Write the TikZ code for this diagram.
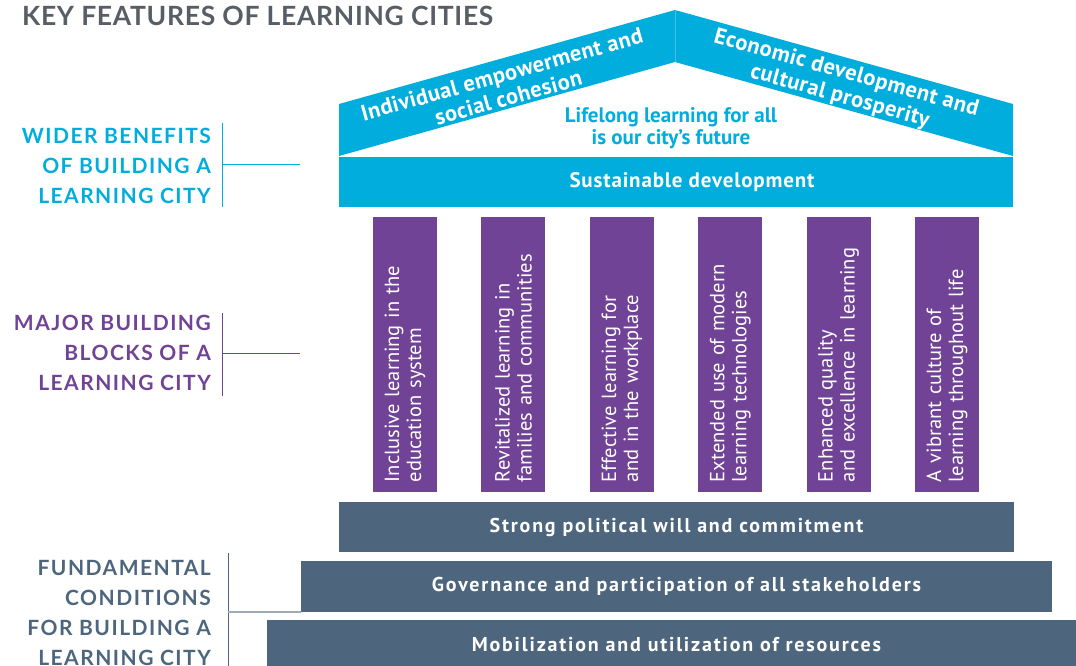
\documentclass[tikz,border=0pt]{standalone}
\usepackage{fontspec}
\setmainfont{PT Sans}
\newfontfamily\latofont{Lato}
\newfontfamily\latowide[LetterSpace=7]{Lato}
\newfontfamily\barfont[LetterSpace=9]{PT Sans}
\newfontfamily\wallfont[LetterSpace=4]{PT Sans}
\newfontfamily\rooffont[LetterSpace=2]{PT Sans}
\usetikzlibrary{positioning}

\definecolor{citycyan}{RGB}{0,173,220}
\definecolor{citypurple}{RGB}{112,67,150}
\definecolor{cityslate}{RGB}{77,102,125}
\definecolor{titlegray}{RGB}{88,94,101}

\tikzset{
	sidetext/.style={align=right, font=\latowide\bfseries\fontsize{21}{30}\selectfont},
	bracket/.style={line width=1pt},
	rooftext/.style={align=center, text=white, font=\rooffont\bfseries\fontsize{22.5}{24}\selectfont},
	pillar/.style={fill=citypurple, text=white, rotate=90, minimum width=275, minimum height=64,
		text width=255, inner xsep=10, align=left, font=\fontsize{20.5}{22}\selectfont},
	basebar/.style={fill=cityslate, text=white, minimum height=50, font=\barfont\bfseries\fontsize{20}{22}\selectfont},
}

\begin{document}
\begin{tikzpicture}[x=1pt, y=-1pt, every node/.style={inner sep=0pt}]
	\clip (0,0) rectangle (1076,666);
	\node[anchor=base west, text=titlegray, font=\latofont\addfontfeature{LetterSpace=2.6}\bfseries\fontsize{26.5}{30}\selectfont] (title) at (22,26) {KEY FEATURES OF LEARNING CITIES};

	% roof
	\coordinate (peak) at (675,10);
	\coordinate (ridge) at (675,62);
	\fill[citycyan] (339,104) -- (peak) -- (ridge) -- (339,156) -- cycle;
	\fill[citycyan] (peak) -- (1013,104) -- (1013,156) -- (ridge) -- cycle;
	\draw[citycyan!75!white, line width=0.6pt] (peak) -- (ridge);
	\node[rooftext, rotate=15.63] (social) at (505,86) {Individual empowerment and\\social cohesion};
	\node[rooftext, rotate=-15.63] (economic) at (843,85) {Economic development and\\cultural prosperity};
	\node[align=center, text=citycyan, font=\bfseries\fontsize{21}{22}\selectfont] (motto) at (671,128) {Lifelong learning for all\\is our city’s future};
	\node[fill=citycyan, minimum width=674, minimum height=50] (wall) at (676,182) {};
	\node[text=white, font=\wallfont\bfseries\fontsize{21}{22}\selectfont] (sustain) at ([xshift=16]wall.center) {Sustainable development};

	% pillars
	\foreach \n/\px/\txt in {1/405/{Inclusive learning in the\\education system},
		2/513.4/{Revitalized learning in\\families and communities},
		3/621.8/{Effective learning for\\and in the workplace},
		4/730.2/{Extended use of modern\\learning technologies},
		5/838.6/{Enhanced quality\\and excellence in learning},
		6/947/{A vibrant culture of\\learning throughout life}}
		\node[pillar] (p\n) at (\px,354.5) {\txt};

	% foundation
	\node[basebar, minimum width=675] (will) at (676.5,527) {Strong political will and commitment};
	\node[basebar, minimum width=751, minimum height=51] (gov) at (676.5,586.5) {Governance and participation of all stakeholders};
	\node[basebar, minimum width=819] (res) at (676.5,645) {Mobilization and utilization of resources};

	% side labels
	\node[sidetext, text=citycyan, anchor=north east] (wider) at (211,128) {WIDER BENEFITS\\OF BUILDING A\\LEARNING CITY};
	\node[sidetext, text=citypurple, anchor=north east] (major) at (211,315) {MAJOR BUILDING\\BLOCKS OF A\\LEARNING CITY};
	\node[sidetext, text=cityslate, anchor=north east] (fund) at (211,560) {FUNDAMENTAL\\CONDITIONS\\FOR BUILDING A\\LEARNING CITY};

	\coordinate (wtop) at (222,123);
	\coordinate (wbot) at (222,207);
	\coordinate (wend) at (300,164);
	\draw[bracket, citycyan] (wtop) -- (wbot) (wtop |- wend) -- (wend);
	\coordinate (mtop) at (222,313);
	\coordinate (mbot) at (222,396);
	\coordinate (mend) at (300,353);
	\draw[bracket, citypurple] (mtop) -- (mbot) (mtop |- mend) -- (mend);
	\coordinate (ftop) at (228,553);
	\coordinate (fbot) at (228,670);
	\draw[bracket, cityslate] (ftop) -- (fbot);
	\draw[line width=1.5pt, cityslate!55!white] (ftop |- gov.south west) -- (gov.south west);
\end{tikzpicture}
\end{document}
